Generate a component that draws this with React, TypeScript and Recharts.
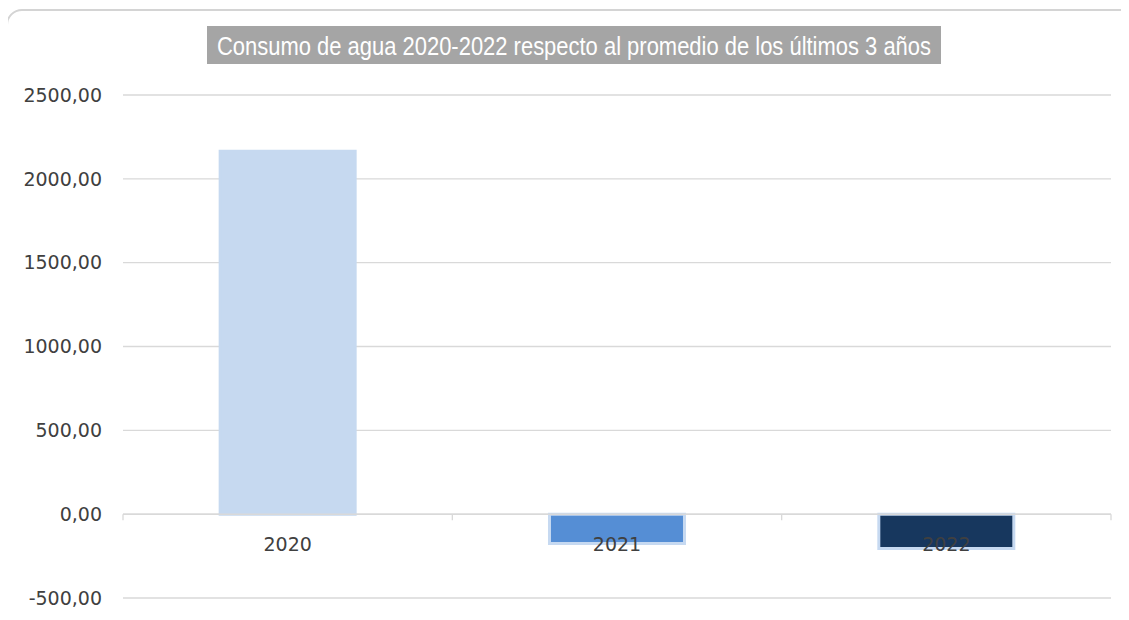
import { BarChart, Bar, Cell, XAxis, YAxis, CartesianGrid, ReferenceLine, LabelList } from "recharts";

const years = ["2020", "2021", "2022"];
const consumo = [2165, -175, -205];
const yTicks = [-500, 0, 500, 1000, 1500, 2000, 2500];
const barFills = ["#C6D9F0", "#558ED5", "#17375E"];
const barStrokes = ["#C6D9F0", "#C6D9F1", "#C6D9F1"];
const boundaries = [0, 1, 2, 3];

const TITLE = "Consumo de agua 2020-2022 respecto al promedio de los últimos 3 años";

const data = years.map((y, i) => ({ year: y, value: consumo[i], pos: i + 0.5 }));

const fmt = (v: number) =>
  v.toLocaleString("es-ES", { minimumFractionDigits: 2, maximumFractionDigits: 2, useGrouping: false });

// year label sits just under the zero line, whatever the bar's sign
function YearLabel(props: any) {
  const { x, y, width, height, value, index } = props;
  const top = Math.min(y, y + height);
  const bottom = Math.max(y, y + height);
  const zeroY = data[index].value < 0 ? top : bottom;
  return (
    <text
      x={x + width / 2}
      y={zeroY + 37}
      textAnchor="middle"
      fill="#404040"
      fontSize={19}
      fontFamily="DejaVu Sans"
    >
      {value}
    </text>
  );
}

export default function App() {
  return (
    <div style={{ margin: -8, width: 1129, height: 620, position: "relative", overflow: "hidden", background: "#fff" }}>
      <div
        style={{
          position: "absolute",
          left: 6,
          top: 9,
          width: 1150,
          height: 660,
          border: "2px solid #d4d4d4",
          borderRadius: 16,
        }}
      />
      <BarChart
        width={1129}
        height={620}
        data={data}
        margin={{ top: 95, right: 18, bottom: 22, left: 0 }}
        barCategoryGap="29.5%"
        style={{ position: "absolute", left: 0, top: 0 }}
      >
        <CartesianGrid vertical={false} stroke="#d9d9d9" strokeWidth={1.3} />
        <XAxis dataKey="year" hide />
        <XAxis xAxisId="b" type="number" dataKey="pos" domain={[0, 3]} hide />
        <YAxis
          width={123}
          domain={[-500, 2500]}
          ticks={yTicks}
          interval={0}
          tickFormatter={fmt}
          axisLine={false}
          tickLine={false}
          tickSize={0}
          tickMargin={21}
          tick={{ fill: "#404040", fontSize: 19, fontFamily: "DejaVu Sans" }}
        />
        <ReferenceLine y={0} stroke="#d9d9d9" strokeWidth={1.5} />
        {boundaries.map((b) => (
          <ReferenceLine
            key={b}
            xAxisId="b"
            segment={[
              { x: b, y: 0 },
              { x: b, y: -36 },
            ]}
            stroke="#d9d9d9"
            strokeWidth={1.3}
          />
        ))}
        <Bar dataKey="value" isAnimationActive={false} strokeWidth={3}>
          {data.map((d, i) => (
            <Cell key={d.year} fill={barFills[i]} stroke={barStrokes[i]} />
          ))}
          <LabelList dataKey="year" content={YearLabel} />
        </Bar>
      </BarChart>
      <div
        style={{
          position: "absolute",
          left: 207,
          top: 26,
          width: 734,
          height: 38,
          background: "#a5a5a5",
        }}
      >
        <svg width={734} height={38} style={{ overflow: "visible", display: "block" }}>
          <text
            x={10}
            y={29}
            fill="#fff"
            fontSize={25}
            fontFamily="Liberation Sans Narrow, Arial Narrow, sans-serif"
            textLength={714}
            lengthAdjust="spacingAndGlyphs"
          >
            {TITLE}
          </text>
        </svg>
      </div>
    </div>
  );
}
